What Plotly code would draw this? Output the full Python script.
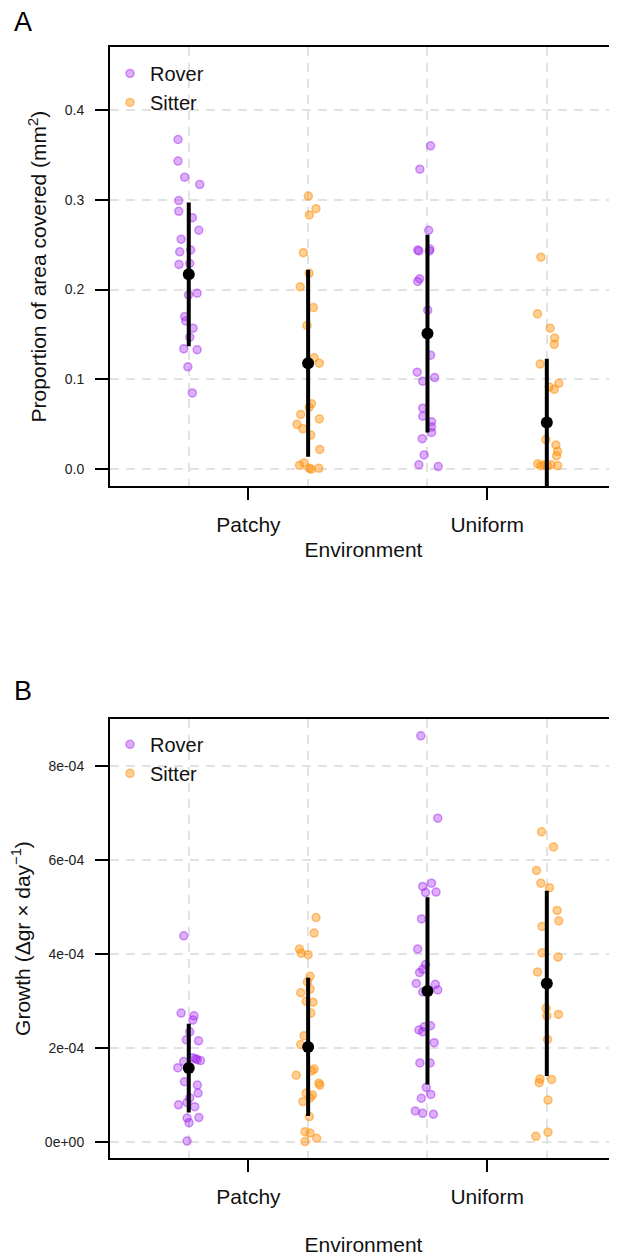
import plotly.graph_objects as go

# ---------------- data ----------------
environments = ["Patchy", "Uniform"]
strains = ["Rover", "Sitter"]

# Panel A: proportion of area covered (mm^2); jitter = horizontal offset of each point
area_rover_patchy = [0.367, 0.343, 0.325, 0.317, 0.299, 0.287, 0.280, 0.266, 0.256, 0.242, 0.244, 0.228,
                     0.229, 0.194, 0.196, 0.170, 0.165, 0.157, 0.147, 0.134, 0.133, 0.114, 0.085]
jit_area_rover_patchy = [-0.045, -0.045, -0.017, 0.046, -0.042, -0.042, 0.015, 0.042, -0.032, -0.038, 0.008,
                         -0.041, 0.004, -0.001, 0.035, -0.017, -0.013, 0.018, 0.004, -0.021, 0.035, -0.004, 0.015]
area_sitter_patchy = [0.304, 0.290, 0.283, 0.241, 0.218, 0.203, 0.180, 0.160, 0.124, 0.118, 0.073, 0.069,
                      0.061, 0.056, 0.050, 0.045, 0.038, 0.022, 0.0044, 0.007, 0.001, 0.000, 0.001]
jit_area_sitter_patchy = [0.001, 0.033, 0.005, -0.020, 0.004, -0.033, 0.022, -0.005, 0.025, 0.047, 0.014, 0.004,
                          -0.031, 0.047, -0.047, -0.022, 0.011, 0.049, -0.036, -0.017, 0.005, 0.013, 0.045]
area_rover_uniform = [0.360, 0.334, 0.266, 0.244, 0.243, 0.245, 0.243, 0.209, 0.212, 0.177, 0.127, 0.108,
                      0.098, 0.102, 0.068, 0.059, 0.053, 0.047, 0.041, 0.034, 0.016, 0.005, 0.003]
jit_area_rover_uniform = [0.013, -0.032, 0.005, -0.041, -0.036, 0.010, 0.008, -0.041, -0.033, 0.001, 0.013, -0.043,
                          -0.020, 0.030, -0.020, -0.020, 0.017, 0.017, 0.017, -0.022, -0.014, -0.036, 0.045]
area_sitter_uniform = [0.236, 0.173, 0.157, 0.146, 0.139, 0.117, 0.0956, 0.0915, 0.089, 0.033, 0.027, 0.020,
                       0.015, 0.004, 0.005, 0.004, 0.005, 0.004, 0.006]
jit_area_sitter_uniform = [-0.025, -0.039, 0.014, 0.033, 0.031, -0.028, 0.050, 0.010, 0.031, -0.004, 0.038, 0.045,
                           0.041, -0.025, -0.011, 0.003, 0.017, 0.045, -0.038]
area_mean = [0.217, 0.118, 0.151, 0.052]   # Rover-Patchy, Sitter-Patchy, Rover-Uniform, Sitter-Uniform
area_sd = [0.080, 0.104, 0.110, 0.071]

# Panel B: growth (delta gr x day^-1)
growth_rover_patchy = [4.39e-4, 2.75e-4, 2.69e-4, 2.60e-4, 2.35e-4, 2.18e-4, 2.16e-4, 1.72e-4, 1.80e-4, 1.78e-4,
                       1.76e-4, 1.74e-4, 1.59e-4, 1.29e-4, 1.22e-4, 1.05e-4, 0.95e-4, 0.85e-4, 0.80e-4, 0.76e-4,
                       0.52e-4, 0.42e-4, 0.53e-4, 0.03e-4]
jit_growth_rover_patchy = [-0.021, -0.032, 0.022, 0.017, 0.004, -0.010, 0.041, -0.021, 0.017, 0.029,
                           0.035, 0.049, -0.046, -0.018, 0.036, 0.039, 0.004, -0.007, -0.043, 0.025,
                           -0.007, 0.001, 0.042, -0.007]
growth_sitter_patchy = [4.78e-4, 4.45e-4, 4.11e-4, 4.02e-4, 3.99e-4, 3.53e-4, 3.41e-4, 3.18e-4, 3.26e-4, 3.00e-4,
                        2.98e-4, 2.75e-4, 2.27e-4, 2.08e-4, 1.56e-4, 1.52e-4, 1.43e-4, 1.26e-4, 1.22e-4, 1.05e-4,
                        1.01e-4, 0.95e-4, 0.87e-4, 0.55e-4, 0.23e-4, 0.20e-4, 0.09e-4, 0.02e-4]
jit_growth_sitter_patchy = [0.033, 0.025, -0.036, -0.029, 0.000, 0.008, -0.003, -0.031, 0.008, -0.008,
                            0.020, 0.011, -0.017, -0.031, 0.025, 0.015, -0.050, 0.045, 0.049, -0.008,
                            0.018, 0.008, -0.022, 0.005, -0.013, 0.008, 0.036, -0.013]
growth_rover_uniform = [8.64e-4, 6.89e-4, 5.44e-4, 5.51e-4, 5.31e-4, 5.32e-4, 4.75e-4, 4.11e-4, 3.78e-4, 3.68e-4,
                        3.61e-4, 3.38e-4, 3.36e-4, 3.24e-4, 3.20e-4, 2.39e-4, 2.35e-4, 2.48e-4, 2.46e-4, 2.12e-4,
                        1.69e-4, 1.69e-4, 1.17e-4, 0.94e-4, 1.02e-4, 0.67e-4, 0.62e-4, 0.60e-4]
jit_growth_rover_uniform = [-0.028, 0.043, -0.020, 0.017, -0.008, 0.036, -0.025, -0.041, -0.008, -0.020,
                            -0.033, -0.047, 0.033, 0.043, -0.020, -0.036, -0.020, 0.013, -0.013, 0.028,
                            -0.032, 0.011, -0.005, -0.026, 0.014, -0.051, -0.020, 0.025]
growth_sitter_uniform = [6.60e-4, 6.28e-4, 5.78e-4, 5.51e-4, 5.41e-4, 4.93e-4, 4.71e-4, 4.59e-4, 4.03e-4, 3.94e-4,
                         3.62e-4, 2.85e-4, 2.69e-4, 2.72e-4, 2.19e-4, 1.35e-4, 1.27e-4, 1.34e-4, 0.90e-4, 0.13e-4,
                         0.22e-4]
jit_growth_sitter_uniform = [-0.022, 0.028, -0.043, -0.025, 0.011, 0.043, 0.050, -0.020, -0.020, 0.047,
                             -0.039, -0.003, 0.000, 0.049, 0.003, -0.029, -0.032, 0.020, 0.005, -0.046,
                             0.005]
growth_mean = [1.58e-4, 2.03e-4, 3.22e-4, 3.38e-4]
growth_sd = [0.945e-4, 1.47e-4, 1.99e-4, 1.97e-4]

area_ticks = [0.0, 0.1, 0.2, 0.3, 0.4]
area_ticktext = ["0.0", "0.1", "0.2", "0.3", "0.4"]
growth_ticks = [0, 2e-4, 4e-4, 6e-4, 8e-4]
growth_ticktext = ["0e+00", "2e-04", "4e-04", "6e-04", "8e-04"]

# ---------------- styling ----------------
# page body has an 8px default margin, so the figure is 8px smaller and everything is shifted by -8
W, H = 609, 1248
FONT = "Liberation Sans, Arial, Helvetica, sans-serif"
fills = {"Rover": "rgba(160,32,240,0.36)", "Sitter": "rgba(255,140,0,0.42)"}
edges = {"Rover": "rgba(160,32,240,0.45)", "Sitter": "rgba(255,140,0,0.5)"}
offset = {"Rover": -0.25, "Sitter": 0.25}
group_pos = [1 - 0.25, 1 + 0.25, 2 - 0.25, 2 + 0.25]
GRID = "#e2e2e2"

fig = go.Figure()

panels = [
    ("x", "y", "legend", {
        "Rover": [(area_rover_patchy, jit_area_rover_patchy, 1), (area_rover_uniform, jit_area_rover_uniform, 2)],
        "Sitter": [(area_sitter_patchy, jit_area_sitter_patchy, 1), (area_sitter_uniform, jit_area_sitter_uniform, 2)],
    }, area_mean, area_sd),
    ("x2", "y2", "legend2", {
        "Rover": [(growth_rover_patchy, jit_growth_rover_patchy, 1), (growth_rover_uniform, jit_growth_rover_uniform, 2)],
        "Sitter": [(growth_sitter_patchy, jit_growth_sitter_patchy, 1), (growth_sitter_uniform, jit_growth_sitter_uniform, 2)],
    }, growth_mean, growth_sd),
]

for xa, ya, leg, groups, means, sds in panels:
    for s in strains:
        xs, ys = [], []
        for vals, jit, env in groups[s]:
            xs += [env + offset[s] + j for j in jit]
            ys += list(vals)
        fig.add_trace(go.Scatter(
            x=xs, y=ys, mode="markers", name=s, xaxis=xa, yaxis=ya, legend=leg,
            marker=dict(size=8, color=fills[s], line=dict(color=edges[s], width=1.5)),
        ))
    fig.add_trace(go.Scatter(
        x=group_pos, y=means, mode="markers", xaxis=xa, yaxis=ya, showlegend=False,
        marker=dict(size=12, color="black"),
        error_y=dict(type="data", array=sds, symmetric=True, color="black", thickness=4, width=0),
    ))

top_dom = [1 - 479 / H, 1 - 39 / H]
bot_dom = [1 - 1152 / H, 1 - 712 / H]

def xaxis_cfg(anchor, standoff):
    return dict(
        domain=[0, 1], anchor=anchor, range=[0.42, 2.544],
        tickmode="array", tickvals=[1, 2], ticktext=environments,
        ticks="outside", ticklen=12, tickwidth=2, tickcolor="black",
        tickfont=dict(family=FONT, size=21, color="#111"), ticklabelstandoff=7,
        showline=True, linewidth=2, linecolor="black", mirror=True,
        showgrid=False, zeroline=False,
        minor=dict(tickmode="array", tickvals=group_pos, showgrid=True, gridcolor=GRID,
                   griddash="9px,7px", gridwidth=1.6, ticks=""),
        title=dict(text="Environment", font=dict(family=FONT, size=21, color="#111"), standoff=standoff),
    )

def yaxis_cfg(anchor, dom, rng, tv, tt, title, standoff):
    return dict(
        domain=dom, anchor=anchor, range=rng,
        tickmode="array", tickvals=tv, ticktext=tt,
        ticks="outside", ticklen=13, tickwidth=2, tickcolor="black",
        tickfont=dict(family=FONT, size=14, color="#222"), ticklabelstandoff=8,
        showline=True, linewidth=2, linecolor="black", mirror=False,
        showgrid=True, gridcolor=GRID, griddash="9px,7px", gridwidth=1.6, zeroline=False,
        title=dict(text=title, font=dict(family=FONT, size=21, color="#111"), standoff=standoff),
    )

fig.update_layout(
    width=W, height=H,
    margin=dict(l=102, r=0, t=0, b=0),
    paper_bgcolor="white", plot_bgcolor="white",
    font=dict(family=FONT),
    xaxis=xaxis_cfg("y", 7),
    xaxis2=xaxis_cfg("y2", 33),
    yaxis=yaxis_cfg("x", top_dom, [-0.0189, 0.470], area_ticks, area_ticktext,
                    "Proportion of area covered (mm<sup>2</sup>)", 12),
    yaxis2=yaxis_cfg("x2", bot_dom, [-3.33e-5, 9.0e-4], growth_ticks, growth_ticktext,
                     "Growth (Δgr × day<sup>−1</sup>)", 12),
    legend=dict(x=0, xanchor="left", y=1 - 46 / H, yanchor="top", bgcolor="rgba(0,0,0,0)",
                font=dict(family=FONT, size=20, color="#111"), tracegroupgap=0),
    legend2=dict(x=0, xanchor="left", y=1 - 718 / H, yanchor="top", bgcolor="rgba(0,0,0,0)",
                 font=dict(family=FONT, size=20, color="#111"), tracegroupgap=0),
    annotations=[
        dict(text="A", xref="paper", yref="paper", x=-98 / 507, y=1 - 14 / H, xanchor="left", yanchor="middle",
             showarrow=False, font=dict(family=FONT, size=27, color="black")),
        dict(text="B", xref="paper", yref="paper", x=-98 / 507, y=1 - 684 / H, xanchor="left", yanchor="middle",
             showarrow=False, font=dict(family=FONT, size=27, color="black")),
    ],
)

fig.write_html("out.html")
